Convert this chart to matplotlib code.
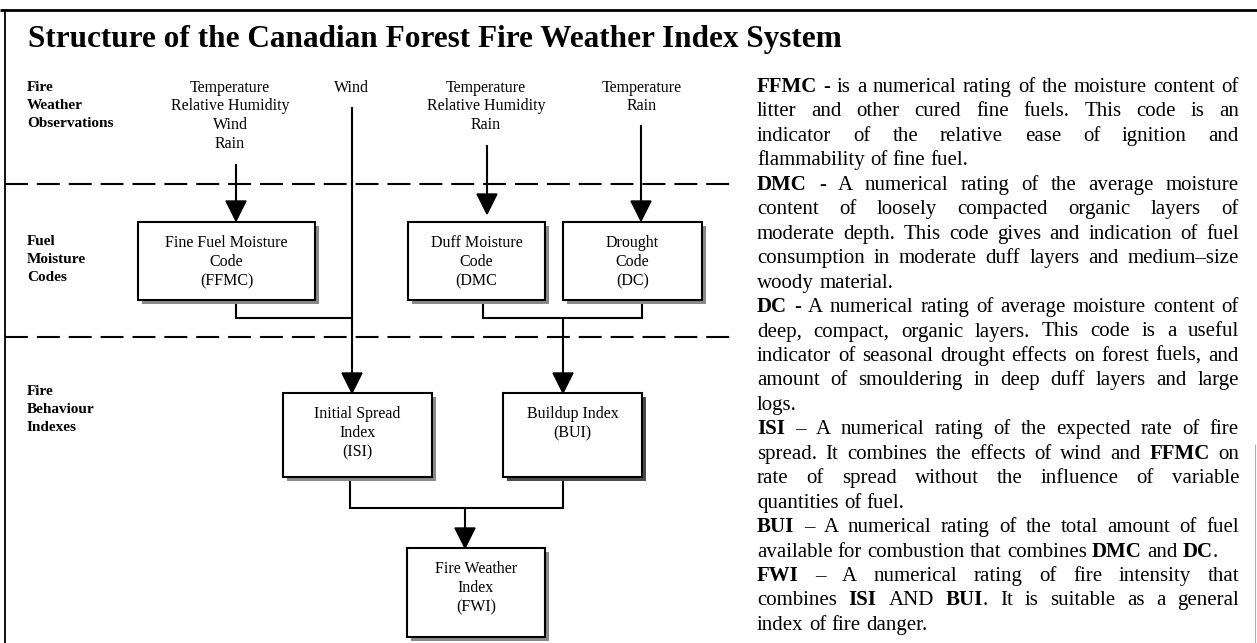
import matplotlib
matplotlib.use("Agg")
import matplotlib.pyplot as plt
from matplotlib.patches import Rectangle, Polygon

# ------------------------------------------------------------------ content
TITLE = "Structure of the Canadian Forest Fire Weather Index System"

ROW_LABELS = [["Fire", "Weather", "Observations"],
              ["Fuel", "Moisture", "Codes"],
              ["Fire", "Behaviour", "Indexes"]]

INPUT_LABELS = [["Temperature", "Relative Humidity", "Wind", "Rain"],
                ["Wind"],
                ["Temperature", "Relative Humidity", "Rain"],
                ["Temperature", "Rain"]]

BOX_NAMES = ["FFMC", "DMC", "DC", "ISI", "BUI", "FWI"]
BOX_LABELS = [["Fine Fuel Moisture", "Code", "(FFMC)"],
              ["Duff Moisture", "Code", "(DMC"],
              ["Drought", "Code", "(DC)"],
              ["Initial Spread", "Index", "(ISI)"],
              ["Buildup Index", "(BUI)"],
              ["Fire Weather", "Index", "(FWI)"]]

DESCRIPTIONS = [
    ["**FFMC** - is a numerical rating of the moisture content of",
     "litter and other cured fine fuels. This code is an",
     "indicator of the relative ease of ignition and",
     "flammability of fine fuel."],
    ["**DMC** - A numerical rating of the average moisture",
     "content of loosely compacted organic layers of",
     "moderate depth. This code gives and indication of fuel",
     "consumption in moderate duff layers and medium\u2013size",
     "woody material."],
    ["**DC** - A numerical rating of average moisture content of",
     "deep, compact, organic layers. This code is a useful",
     "indicator of seasonal drought effects on forest fuels, and",
     "amount of smouldering in deep duff layers and large",
     "logs."],
    ["**ISI** \u2013 A numerical rating of the expected rate of fire",
     "spread. It combines the effects of wind and **FFMC** on",
     "rate of spread without the influence of variable",
     "quantities of fuel."],
    ["**BUI** \u2013 A numerical rating of the total amount of fuel",
     "available for combustion that combines **DMC** and **DC**."],
    ["**FWI** \u2013 A numerical rating of fire intensity that",
     "combines **ISI** AND **BUI**. It is suitable as a general",
     "index of fire danger."],
]

# ------------------------------------------------------------------ layout (pixel space)
W, H = 1257, 643
ROW_LABEL_X = 27
ROW_LABEL_TOP = [91, 245, 395]          # baseline of first line
ROW_LABEL_STEP = 18
INPUT_X = [230, 351, 486, 642]
INPUT_TOP = 92
INPUT_STEP = 18.5
BOX_RECTS = [(138, 222, 315, 300), (408, 222, 545, 300), (563, 222, 702, 300),
             (283, 393, 432, 477), (503, 393, 642, 477), (407, 548, 545, 637)]
SHADOW_COLORS = ["#8a8a8a", "#8a8a8a", "#8a8a8a", "#8a8a8a", "#4a4a4a", "#8a8a8a"]
DASH_Y = [184, 337]
DESC_X0, DESC_X1 = 757, 1239
DESC_TOP, DESC_STEP = 92, 24.45

SERIF = "Liberation Serif"
LW = 1.5

fig = plt.figure(figsize=(W / 100, H / 100), dpi=100)
ax = fig.add_axes([0, 0, 1, 1])
ax.set_xlim(0, W)
ax.set_ylim(H, 0)
ax.axis("off")
renderer = fig.canvas.get_renderer()

# frame
ax.plot([0, W], [10, 10], color="black", lw=2.0, solid_capstyle="butt")
ax.plot([5, 5], [10, H], color="black", lw=1.3)
ax.plot([1255, 1255], [445, H], color="#b0b0b0", lw=0.8)

# title
ax.text(28, 47, TITLE, fontsize=22.5, family=SERIF, weight="bold", va="baseline", ha="left")

# row labels
for lines, y0 in zip(ROW_LABELS, ROW_LABEL_TOP):
    for i, s in enumerate(lines):
        ax.text(ROW_LABEL_X, y0 + i * ROW_LABEL_STEP, s, fontsize=11, family=SERIF,
                weight="bold", va="baseline", ha="left")

# input labels
for lines, x in zip(INPUT_LABELS, INPUT_X):
    for i, s in enumerate(lines):
        ax.text(x, INPUT_TOP + i * INPUT_STEP, s, fontsize=11.5, family=SERIF,
                va="baseline", ha="center")

# dashed separators
for y in DASH_Y:
    ax.plot([5, 738], [y, y], color="black", lw=LW, linestyle=(0, (11, 4.3)))


def vline(x, y0, y1):
    ax.plot([x, x], [y0, y1], color="black", lw=LW, solid_capstyle="butt", zorder=2)


def hline(y, x0, x1):
    ax.plot([x0, x1], [y, y], color="black", lw=LW, solid_capstyle="projecting", zorder=2)


def head(x, ytip, size=20):
    ax.add_patch(Polygon([(x - size / 2, ytip - size), (x + size / 2, ytip - size), (x, ytip)],
                         closed=True, facecolor="black", edgecolor="black", zorder=4))


# input arrows
vline(236, 164, 202); head(236, 221)
vline(352, 107, 374); head(352, 393)
vline(487, 145, 195); head(487, 214)
vline(641, 125, 202); head(641, 221)

# FFMC -> ISI connector
vline(236, 300, 318); hline(318, 236, 352)
# DMC/DC -> BUI
vline(483, 300, 318); vline(642, 300, 318); hline(318, 483, 642)
vline(563, 318, 374); head(563, 393)
# ISI/BUI -> FWI
vline(350, 477, 508); vline(563, 477, 508); hline(508, 350, 563)
vline(465, 508, 529); head(465, 548)

# boxes
for rect, lines, sc in zip(BOX_RECTS, BOX_LABELS, SHADOW_COLORS):
    x0, y0, x1, y1 = rect
    ax.add_patch(Rectangle((x0 + 4, y0 + 4), x1 - x0, y1 - y0, facecolor=sc,
                           edgecolor="none", zorder=3))
    ax.add_patch(Rectangle((x0, y0), x1 - x0, y1 - y0, facecolor="white",
                           edgecolor="black", lw=LW, zorder=3.5))
    cx = (x0 + x1) / 2
    for i, s in enumerate(lines):
        ax.text(cx, y0 + 25 + i * 19, s, fontsize=11.5, family=SERIF, va="baseline",
                ha="center", zorder=5)

# justified description text
FS = 15
_cache = {}


def measure(s, bold):
    key = (s, bold)
    if key not in _cache:
        t = ax.text(0, 0, s, fontsize=FS, family=SERIF, weight="bold" if bold else "normal")
        bb = t.get_window_extent(renderer)
        t.remove()
        _cache[key] = bb.width
    return _cache[key]


SPACE = measure("a a", False) - measure("aa", False)


def parse(line):
    words = []
    bold = False
    for w in line.split(" "):
        segs = []
        parts = w.split("**")
        for j, p in enumerate(parts):
            if j > 0:
                bold = not bold
            if p:
                segs.append((p, bold))
        words.append(segs)
    return words


row = 0
for para in DESCRIPTIONS:
    for k, line in enumerate(para):
        y = DESC_TOP + row * DESC_STEP
        words = parse(line)
        widths = [sum(measure(s, b) for s, b in w) for w in words]
        last = k == len(para) - 1
        if not last and len(words) > 1:
            gap = (DESC_X1 - DESC_X0 - sum(widths)) / (len(words) - 1)
        else:
            gap = SPACE
        x = DESC_X0
        for w, wd in zip(words, widths):
            xx = x
            for s, b in w:
                ax.text(xx, y, s, fontsize=FS, family=SERIF, weight="bold" if b else "normal",
                        va="baseline", ha="left")
                xx += measure(s, b)
            x += wd + gap
        row += 1

fig.savefig("out.png", dpi=100)
